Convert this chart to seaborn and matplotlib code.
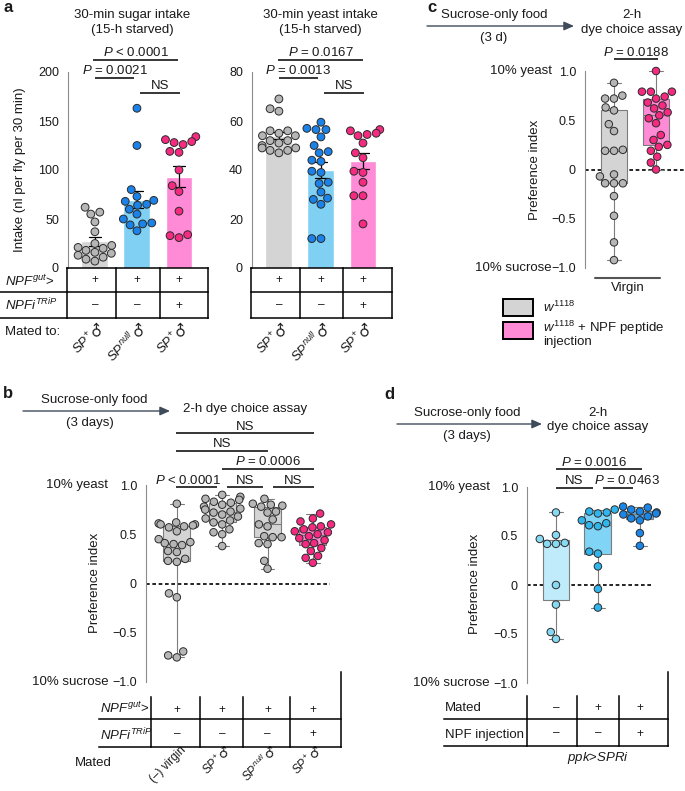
import warnings
import numpy as np
import pandas as pd
import matplotlib
matplotlib.use("Agg")
import matplotlib.pyplot as plt
import seaborn as sns
from matplotlib.lines import Line2D
from matplotlib.patches import Rectangle, FancyArrowPatch

warnings.filterwarnings("ignore")

# ---------------- data ----------------
# a: 30-min intake, nl per fly per 30 min
groups_a = ["sp", "null", "npfi"]
sugar_sp = [62, 57, 55, 47, 37, 25, 23, 21, 20, 18, 16, 15, 13, 11, 9, 7]
sugar_null = [163, 125, 80, 73, 69, 68, 65, 64, 60, 55, 50, 46, 45, 44, 38]
sugar_npfi = [134, 131, 129, 128, 126, 119, 118, 100, 84, 78, 58, 34, 31, 33]
yeast_sp = [69, 65, 64, 56, 56, 55, 54, 54, 52, 52, 51, 50, 49, 49, 48, 48, 47]
yeast_null = [59.5, 57, 56.5, 56.5, 53.5, 50, 47.5, 47, 44, 43.5, 39.5, 39,
              35, 34.5, 31, 28.5, 28, 26, 12, 12]
yeast_npfi = [56.5, 56, 55, 54.5, 54, 51, 47, 45, 39.5, 39, 35, 29.5, 29.5, 18]

# b: preference index
groups_b = ["virgin", "sp", "null", "npfi"]
b_virgin = [0.81, 0.62, 0.61, 0.60, 0.60, 0.59, 0.58, 0.57, 0.53, 0.45, 0.42, 0.41,
            0.40, 0.39, 0.33, 0.32, 0.25, 0.23, 0.22, -0.10, -0.14, -0.69, -0.73, -0.75]
b_sp = [0.90, 0.88, 0.86, 0.85, 0.83, 0.82, 0.80, 0.78, 0.76, 0.75, 0.73, 0.72,
        0.70, 0.68, 0.66, 0.64, 0.62, 0.60, 0.55, 0.52, 0.50, 0.38]
b_null = [0.86, 0.81, 0.80, 0.79, 0.78, 0.73, 0.72, 0.65, 0.60, 0.58, 0.48, 0.47,
          0.47, 0.41, 0.40, 0.23, 0.15]
b_npfi = [0.71, 0.66, 0.63, 0.60, 0.58, 0.57, 0.55, 0.53, 0.52, 0.50, 0.48, 0.46,
          0.44, 0.41, 0.40, 0.36, 0.33, 0.28, 0.26, 0.21]

# c: preference index, virgin females
groups_c = ["w1118", "npf"]
c_w1118 = [0.88, 0.75, 0.72, 0.72, 0.63, 0.60, 0.46, 0.39, 0.20, 0.19, 0.19, -0.05,
           -0.07, -0.14, -0.14, -0.14, -0.27, -0.47, -0.74, -0.92]
c_npf = [1.0, 0.79, 0.79, 0.79, 0.74, 0.72, 0.68, 0.65, 0.62, 0.58, 0.55, 0.52,
         0.47, 0.35, 0.30, 0.25, 0.23, 0.19, 0.13, 0.07, 0.0]

# d: preference index, ppk>SPRi
groups_d = ["virgin", "mated", "mated_npf"]
d_virgin = [0.74, 0.51, 0.47, 0.43, 0.42, 0.42, 0.0, -0.2, -0.48, -0.55]
d_mated = [0.77, 0.75, 0.74, 0.73, 0.66, 0.63, 0.61, 0.60, 0.34, 0.32, 0.19, -0.04, -0.23]
d_npf = [0.80, 0.79, 0.77, 0.75, 0.74, 0.73, 0.72, 0.70, 0.68, 0.66, 0.53, 0.40]

# table rows
rows_a = [["+", "+", "+"], ["–", "–", "+"]]
mated_a = [r"$\mathit{SP}^{+}$", r"$\mathit{SP}^{null}$", r"$\mathit{SP}^{+}$"]
rows_b = [["+", "+", "+", "+"], ["–", "–", "–", "+"]]
mated_b = ["(–) virgin", r"$\mathit{SP}^{+}$", r"$\mathit{SP}^{null}$", r"$\mathit{SP}^{+}$"]
male_b = [False, True, True, True]
rows_d = [["–", "+", "+"], ["–", "–", "+"]]
pref_ticks = [-1.0, -0.5, 0, 0.5, 1.0]
pref_labels = ["−1.0", "−0.5", "0", "0.5", "1.0"]

# ---------------- style ----------------
sns.set_style("white")
plt.rcParams["font.family"] = ["Liberation Sans", "DejaVu Sans"]
plt.rcParams["mathtext.fontset"] = "custom"
plt.rcParams["mathtext.rm"] = "Liberation Sans"
plt.rcParams["mathtext.it"] = "Liberation Sans:italic"
plt.rcParams["mathtext.bf"] = "Liberation Sans:bold"
plt.rcParams["text.color"] = "#1a1a1a"

GRAY_BAR, BLUE_BAR, PINK_BAR = "#d4d4d4", "#80d0f4", "#ff8ad6"
GRAY_DOT, BLUE_DOT, PINK_DOT = "#b6b6b6", "#1a82e8", "#f52a80"
FS = 9.5

W, H = 685, 791
fig = plt.figure(figsize=(W / 100, H / 100), dpi=100)


def px_axes(l, t, r, b):
    ax = fig.add_axes([l / W, 1 - b / H, (r - l) / W, (b - t) / H])
    ax.set_facecolor("none")
    return ax


def ftext(x, y, s, size=FS, **kw):
    kw.setdefault("ha", "center")
    kw.setdefault("va", "center")
    fig.text(x / W, 1 - y / H, s, fontsize=size, **kw)


def fline(xs, ys, lw=1.1, color="black"):
    fig.add_artist(Line2D([x / W for x in xs], [1 - y / H for y in ys],
                          lw=lw, color=color, solid_capstyle="projecting"))


def farrow(x1, x2, y):
    fig.add_artist(FancyArrowPatch((x1 / W, 1 - y / H), (x2 / W, 1 - y / H),
                                   transform=fig.transFigure, shrinkA=0, shrinkB=0,
                                   arrowstyle="-|>,head_length=0.5,head_width=0.22",
                                   mutation_scale=12, lw=1.0, color="#3e4b5b"))


def long_df(groups, series):
    return pd.DataFrame({"group": np.repeat(groups, [len(s) for s in series]),
                         "val": np.concatenate(series)})


def style_axis(ax, ylim, yticks, ylabels=None, xlim=None):
    ax.set_ylim(*ylim)
    ax.set_yticks(yticks)
    if ylabels is not None:
        ax.set_yticklabels(ylabels)
    if xlim is not None:
        ax.set_xlim(*xlim)
    for s in ["top", "right", "bottom"]:
        ax.spines[s].set_visible(False)
    ax.spines["left"].set_color("#8c8c8c")
    ax.spines["left"].set_linewidth(0.8)
    ax.tick_params(axis="y", color="#8c8c8c", length=3.5, width=0.8,
                   labelsize=9, pad=3, labelcolor="#1a1a1a")
    ax.tick_params(axis="x", bottom=False, labelbottom=False)
    ax.set_xlabel("")
    ax.set_ylabel("")


def bar_panel(ax, series, bar_cols, dot_cols, ylim, yticks):
    df = long_df(groups_a, series)
    sns.barplot(data=df, x="group", y="val", hue="group", order=groups_a,
                palette=dict(zip(groups_a, bar_cols)), saturation=1, width=0.64,
                errorbar="se", capsize=0.3,
                err_kws={"color": "black", "linewidth": 0.9}, legend=False, ax=ax)
    sns.swarmplot(data=df, x="group", y="val", hue="group", order=groups_a,
                  palette=dict(zip(groups_a, dot_cols)), size=5.6,
                  edgecolor="#2b2b2b", linewidth=0.7, legend=False, ax=ax)
    style_axis(ax, ylim, yticks, xlim=(-0.64, 2.69))
    for c in ax.collections:
        c.set_clip_on(False)
    for ln in ax.lines:
        ln.set_clip_on(False)


def box_panel(ax, groups, series, box_cols, dot_cols, width, xlim, dash_end):
    df = long_df(groups, series)
    ax.plot([xlim[0], dash_end], [0, 0], color="black", lw=1.2,
            ls=(0, (2.2, 1.6)), zorder=0.5, clip_on=False)
    sns.boxplot(data=df, x="group", y="val", hue="group", order=groups,
                palette=dict(zip(groups, box_cols)), saturation=1, width=width,
                whis=(0, 100), linecolor="#7d7d7d", linewidth=0.8, fliersize=0,
                legend=False, ax=ax)
    sns.swarmplot(data=df, x="group", y="val", hue="group", order=groups,
                  palette=dict(zip(groups, dot_cols)), size=5.4,
                  edgecolor="#2b2b2b", linewidth=0.7, legend=False, ax=ax)
    style_axis(ax, (-1.0, 1.0), pref_ticks, pref_labels, xlim=xlim)
    for c in ax.collections:
        c.set_clip_on(False)
        c.set_zorder(3)
    for ln in ax.lines:
        ln.set_clip_on(False)


def bracket(ax, x1, x2, y, label, tx=None):
    ax.plot([x1, x2], [y, y], color="black", lw=1.1, clip_on=False,
            solid_capstyle="butt")
    ax.annotate(label, xy=((x1 + x2) / 2 if tx is None else tx, y),
                xytext=(0, 0.6), textcoords="offset points", ha="center",
                va="bottom", fontsize=FS, annotation_clip=False)


def table_axes(ax_main, t, b, rows):
    pos = ax_main.get_position()
    ax = fig.add_axes([pos.x0, 1 - b / H, pos.width, (b - t) / H])
    ax.set_xlim(ax_main.get_xlim())
    ax.set_ylim(len(rows), 0)
    ax.axis("off")
    for r, row in enumerate(rows):
        for i, sym in enumerate(row):
            ax.text(i, r + 0.5, sym, ha="center", va="center", fontsize=8.5)
    return ax


def mated_labels(ax_t, labels, nrows, males, dy=-5, fs=FS):
    # rotated genotype labels; the male sign is drawn larger, as in the figure
    step = fs * 0.7071
    for i, (lab, male) in enumerate(zip(labels, males)):
        kw = dict(xy=(i, nrows), textcoords="offset points", rotation=45,
                  ha="right", va="center", rotation_mode="anchor",
                  annotation_clip=False)
        if male:
            ax_t.annotate("♂", xytext=(5, dy), fontsize=fs + 1,
                          family="DejaVu Sans", **kw)
            ax_t.annotate(lab, xytext=(5 - step, dy - step), fontsize=fs, **kw)
        else:
            ax_t.annotate(lab, xytext=(5, dy), fontsize=fs, **kw)


def side_label(ax, y, s, off=27):
    ax.annotate(s, xy=(0, y), xycoords=ax.get_yaxis_transform(), xytext=(-off, 0),
                textcoords="offset points", ha="right", va="center", fontsize=FS,
                annotation_clip=False)


# ---------------- panel a ----------------
ax_s = px_axes(68, 72, 208, 268)
bar_panel(ax_s, [sugar_sp, sugar_null, sugar_npfi], [GRAY_BAR, BLUE_BAR, PINK_BAR],
          [GRAY_DOT, BLUE_DOT, PINK_DOT], (0, 200), [0, 50, 100, 150, 200])
bracket(ax_s, -0.05, 1.98, 212, r"$\mathit{P}$ < 0.0001")
bracket(ax_s, 0.0, 0.93, 194, r"$\mathit{P}$ = 0.0021")
bracket(ax_s, 1.07, 2.02, 178.6, "NS")

ax_y = px_axes(252, 72, 392, 268)
bar_panel(ax_y, [yeast_sp, yeast_null, yeast_npfi], [GRAY_BAR, BLUE_BAR, PINK_BAR],
          [GRAY_DOT, BLUE_DOT, PINK_DOT], (0, 80), [0, 20, 40, 60, 80])
bracket(ax_y, -0.02, 2.0, 84.9, r"$\mathit{P}$ = 0.0167")
bracket(ax_y, 0.0, 0.93, 77.6, r"$\mathit{P}$ = 0.0013")
bracket(ax_y, 1.07, 2.02, 71.4, "NS")

ftext(132, 15, "30-min sugar intake")
ftext(132, 30, "(15-h starved)")
ftext(320, 15, "30-min yeast intake")
ftext(320, 30, "(15-h starved)")
ftext(20, 170, "Intake (nl per fly per 30 min)", rotation=90)

ta1 = table_axes(ax_s, 268, 318, rows_a)
ta2 = table_axes(ax_y, 268, 318, rows_a)
mated_labels(ta1, mated_a, 2, [True] * 3)
mated_labels(ta2, mated_a, 2, [True] * 3)
fline([67, 208], [268, 268])
fline([0, 208], [292, 292])
fline([0, 208], [318, 318])
for x in [67, 116, 160, 208]:
    fline([x, x], [268, 318])
for y in [268, 292, 318]:
    fline([251, 392], [y, y])
for x in [251, 300, 343, 392]:
    fline([x, x], [268, 318])
ftext(5, 281, r"$\mathit{NPF}^{\mathit{gut}}$>", ha="left")
ftext(5, 305, r"$\mathit{NPFi}^{\mathit{TRiP}}$", ha="left")
ftext(5, 332, "Mated to:", ha="left")

# ---------------- panel c ----------------
ax_c = px_axes(585, 71, 685, 268)
box_panel(ax_c, groups_c, [c_w1118, c_npf], [GRAY_BAR, PINK_BAR], [GRAY_DOT, PINK_DOT],
          0.64, (-0.69, 1.69), 1.69)
bracket(ax_c, 0.0, 1.05, 1.117, r"$\mathit{P}$ = 0.0188")
side_label(ax_c, 1.0, "10% yeast", off=24)
side_label(ax_c, -1.0, "10% sucrose", off=24)
ax_c.plot([-0.45, 1.1], [-1.1, -1.1], color="#555555", lw=1.5, clip_on=False)
ax_c.annotate("Virgin", xy=(0.33, -1.1), xytext=(0, -3), textcoords="offset points",
              ha="center", va="top", fontsize=FS, annotation_clip=False)
ftext(535, 170, "Preference index", rotation=90)
farrow(427, 574, 26)
ftext(494, 15, "Sucrose-only food")
ftext(494, 38, "(3 d)")
ftext(632, 15, "2-h")
ftext(632, 30, "dye choice assay")
for (top, col) in [(299, GRAY_BAR), (322, PINK_BAR)]:
    fig.add_artist(Rectangle((503 / W, 1 - (top + 17) / H), 30 / W, 17 / H,
                             transform=fig.transFigure, fc=col, ec="black", lw=1.4))
ftext(543, 307, r"$\mathit{w}^{\mathit{1118}}$", ha="left")
ftext(543, 328, r"$\mathit{w}^{\mathit{1118}}$ + NPF peptide", ha="left")
ftext(543, 342, "injection", ha="left")

# ---------------- panel b ----------------
ax_b = px_axes(146, 485, 341, 682)
box_panel(ax_b, groups_b, [b_virgin, b_sp, b_null, b_npfi],
          [GRAY_BAR, GRAY_BAR, GRAY_BAR, PINK_BAR],
          [GRAY_DOT, GRAY_DOT, GRAY_DOT, PINK_DOT], 0.6, (-0.68, 3.62), 3.38)
bracket(ax_b, -0.02, 3.02, 1.523, "NS")
bracket(ax_b, -0.02, 2.0, 1.35, "NS")
bracket(ax_b, 1.0, 3.02, 1.167, r"$\mathit{P}$ = 0.0006")
bracket(ax_b, -0.02, 0.88, 0.975, r"$\mathit{P}$ < 0.0001", tx=0.24)
bracket(ax_b, 1.1, 1.9, 0.975, "NS")
bracket(ax_b, 2.12, 3.02, 0.975, "NS")
side_label(ax_b, 1.0, "10% yeast")
side_label(ax_b, -1.0, "10% sucrose")
ftext(95, 583, "Preference index", rotation=90)
farrow(23, 170, 411)
ftext(94, 400, "Sucrose-only food")
ftext(90, 423, "(3 days)")
ftext(245, 409, "2-h dye choice assay")

tb = table_axes(ax_b, 697, 747, rows_b)
mated_labels(tb, mated_b, 2, male_b, dy=-1, fs=8.5)
fline([99, 341], [719, 719])
fline([99, 341], [747, 747])
for x in [151, 200, 243, 290]:
    fline([x, x], [697, 747])
fline([341, 341], [672, 747])
ftext(100, 708, r"$\mathit{NPF}^{\mathit{gut}}$>", ha="left")
ftext(100, 735, r"$\mathit{NPFi}^{\mathit{TRiP}}$", ha="left")
ftext(75, 763, "Mated", ha="left")

# ---------------- panel d ----------------
ax_d = px_axes(527, 487, 668, 683)
box_panel(ax_d, groups_d, [d_virgin, d_mated, d_npf], ["#c0ebfa", "#80d4f5", "#5aaef0"],
          ["#86daf3", "#2fb6ee", "#1a86e8"], 0.64, (-0.69, 2.67), 2.31)
bracket(ax_d, 0.0, 2.05, 1.18, r"$\mathit{P}$ = 0.0016", tx=0.9)
bracket(ax_d, 0.0, 0.88, 0.99, "NS", tx=0.43)
bracket(ax_d, 1.12, 1.83, 0.99, r"$\mathit{P}$ = 0.0463", tx=1.69)
side_label(ax_d, 1.0, "10% yeast")
side_label(ax_d, -1.0, "10% sucrose")
ftext(475, 584, "Preference index", rotation=90)
farrow(397, 542, 424)
ftext(467, 413, "Sucrose-only food")
ftext(467, 436, "(3 days)")
ftext(598, 413, "2-h")
ftext(598, 427, "dye choice assay")

table_axes(ax_d, 696, 746, rows_d)
fline([444, 668], [719, 719])
fline([444, 668], [746, 746])
for x in [527, 577, 619]:
    fline([x, x], [696, 746])
fline([668, 668], [672, 746])
ftext(445, 708, "Mated", ha="left")
ftext(445, 735, "NPF injection", ha="left")
ftext(598, 758, r"$\mathit{ppk}$>$\mathit{SPRi}$")

# panel letters
for (x, y, s) in [(3, 8, "a"), (3, 394, "b"), (427, 8, "c"), (384, 395, "d")]:
    ftext(x, y, s, size=12, weight="bold", ha="left")

fig.savefig("out.png", dpi=100, facecolor="white")
